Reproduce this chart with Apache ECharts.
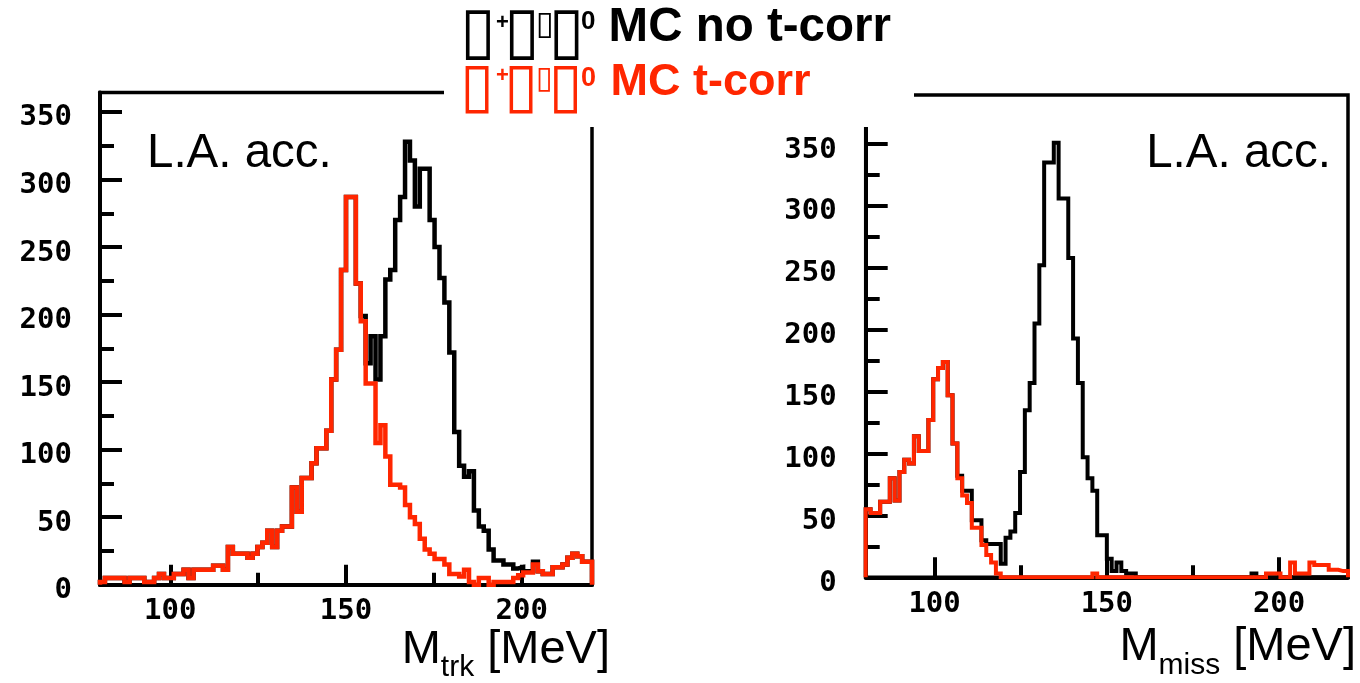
<!DOCTYPE html>
<html><head><meta charset="utf-8">
<script src="https://cdn.jsdelivr.net/npm/echarts@6/dist/echarts.min.js"></script>
<style>html,body{margin:0;padding:0;background:#fff}#c{width:1360px;height:683px}</style>
</head><body><div id="c"></div>
<script>
// ---- data (100 bins of 1.4 MeV from 80 to 220 MeV) ----
const binStart = 80;
const binWidth = 1.4;
const xTicksMajor = [100, 150, 200];
const xTicksMinor = [125, 175];
const yTicksMajor = [0, 50, 100, 150, 200, 250, 300, 350];
const yTicksMinor = [25, 75, 125, 175, 225, 275, 325, 375];

const titleLine1 = ['▯', '+', '▯', '▯', '▯', '0', ' MC no t-corr'];
const titleLine2 = ['▯', '+', '▯', '▯', '▯', '0', ' MC t-corr'];
const panelLabel = 'L.A. acc.';
const leftAxisName = ['M', 'trk', ' [MeV]'];
const rightAxisName = ['M', 'miss', ' [MeV]'];

// Left panel: M_trk
const leftRed = [
  2, 5, 5, 5, 5, 2, 5, 5, 5, 2,
  2, 5, 8, 5, 5, 8, 8, 11, 5, 11,
  11, 11, 11, 14, 14, 11, 28, 23, 23, 23,
  20, 23, 28, 31, 40, 28, 40, 43, 43, 72,
  54, 79, 79, 90, 101, 101, 114, 152, 174, 233,
  287, 287, 223, 195, 149, 149, 105, 118, 95, 74,
  74, 72, 59, 50, 45, 34, 26, 23, 19, 19,
  15, 8, 8, 6, 11, 2, 0, 5, 5, 0,
  2, 2, 2, 2, 5, 7, 9, 9, 15, 10,
  8, 8, 13, 13, 15, 20, 23, 21, 17, 17
];
const leftBlack = [
  2, 5, 5, 5, 5, 2, 5, 5, 5, 2,
  2, 5, 8, 5, 5, 8, 8, 11, 5, 11,
  11, 11, 11, 14, 14, 11, 28, 23, 23, 23,
  20, 23, 28, 31, 40, 28, 40, 43, 43, 72,
  54, 79, 79, 90, 101, 101, 114, 152, 174, 233,
  287, 287, 223, 199, 164, 184, 152, 184, 226, 233,
  270, 287, 328, 314, 280, 308, 308, 270, 250, 227,
  209, 172, 113, 88, 80, 84, 55, 43, 40, 26,
  18, 18, 15, 15, 12, 13, 10, 10, 17, 10,
  8, 8, 13, 13, 15, 20, 23, 21, 17, 17
];

// Right panel: M_miss
const rightRed = [
  55, 52, 52, 61, 61, 80, 62, 85, 95, 92,
  114, 102, 102, 127, 160, 169, 174, 147, 108, 80,
  66, 60, 40, 40, 26, 18, 12, 3, 0, 0,
  0, 0, 0, 0, 0, 0, 0, 0, 0, 0,
  0, 0, 0, 0, 0, 0, 0, 3, 0, 0,
  0, 0, 0, 0, 0, 0, 0, 0, 0, 0,
  0, 0, 0, 0, 0, 0, 0, 0, 0, 0,
  0, 0, 0, 0, 0, 0, 0, 0, 0, 0,
  0, 0, 0, 3, 3, 3, 0, 0, 12, 3,
  3, 3, 12, 10, 10, 10, 6, 6, 5, 5
];
const rightBlack = [
  55, 52, 52, 61, 61, 80, 62, 85, 95, 92,
  114, 102, 102, 127, 160, 169, 174, 147, 108, 82,
  70, 70, 46, 46, 30, 27, 27, 27, 11, 32,
  37, 52, 85, 135, 157, 205, 252, 335, 335, 351,
  306, 306, 258, 193, 157, 97, 80, 70, 34, 34,
  15, 5, 12, 5, 3, 3, 0, 0, 0, 0,
  0, 0, 0, 0, 0, 0, 0, 0, 0, 0,
  0, 0, 0, 0, 0, 0, 0, 0, 0, 0,
  3, 0, 0, 0, 0, 0, 0, 0, 0, 0,
  0, 0, 0, 0, 0, 0, 0, 0, 0, 0
];

// ---- build step outlines from bin contents ----
function histData(vals) {
  const d = [[binStart, 0]];
  vals.forEach((v, i) => d.push([+(binStart + i * binWidth).toFixed(3), v]));
  const end = +(binStart + vals.length * binWidth).toFixed(3);
  d.push([end, vals[vals.length - 1]]);
  d.push([end, 0]);
  return d;
}

const RED = '#ff2600';
const tickFont = { fontFamily: 'DejaVu Sans Mono', fontWeight: 'bold', fontSize: 29, color: '#000' };

function xAxes(grid, margin) {
  return [
    { gridIndex: grid, type: 'value', min: 80, max: 220, position: 'bottom',
      axisLine: { show: true, onZero: false, lineStyle: { color: '#000', width: 4 } },
      axisTick: { show: true, inside: true, length: 20, customValues: xTicksMajor, lineStyle: { color: '#000', width: 4 } },
      axisLabel: Object.assign({ customValues: xTicksMajor, margin: margin, lineHeight: 29 }, tickFont),
      splitLine: { show: false } },
    { gridIndex: grid, type: 'value', min: 80, max: 220, position: 'bottom',
      axisLine: { show: false },
      axisTick: { show: true, inside: true, length: 12, customValues: xTicksMinor, lineStyle: { color: '#000', width: 4 } },
      axisLabel: { show: false }, splitLine: { show: false } }
  ];
}
function yAxes(grid, max, margin) {
  return [
    { gridIndex: grid, type: 'value', min: 0, max: max, position: 'left',
      axisLine: { show: true, onZero: false, lineStyle: { color: '#000', width: 4 } },
      axisTick: { show: true, inside: true, length: 22, customValues: yTicksMajor, lineStyle: { color: '#000', width: 4 } },
      axisLabel: Object.assign({ customValues: yTicksMajor, margin: margin, verticalAlign: 'top', lineHeight: 12 }, tickFont),
      splitLine: { show: false } },
    { gridIndex: grid, type: 'value', min: 0, max: max, position: 'left',
      axisLine: { show: false },
      axisTick: { show: true, inside: true, length: 14, customValues: yTicksMinor, lineStyle: { color: '#000', width: 4 } },
      axisLabel: { show: false }, splitLine: { show: false } }
  ];
}

function lineSeries(vals, color, xi, yi, w) {
  return { type: 'line', step: 'end', xAxisIndex: xi, yAxisIndex: yi, data: histData(vals),
    symbol: 'none', silent: true, clip: true,
    lineStyle: { color: color, width: w, join: 'miter', cap: 'butt' } };
}

const bigFont = 'Liberation Sans';
function richTitle(color, f, p, w) {
  const box = (fs, pt, wd) => ({ fontFamily: 'DejaVu Sans', fontWeight: 'normal', fontSize: fs, height: fs, padding: [pt, 0, 0, 0], width: wd, verticalAlign: 'top', color: color });
  const sup = (fs, pt, wd) => ({ fontFamily: bigFont, fontWeight: 'bold', fontSize: fs, height: fs, padding: [pt, 0, 0, 0], width: wd, verticalAlign: 'top', color: color });
  return {
    b1: box(f.box, p.box, w.b1), b2: box(f.box, p.box, w.b2), b3: box(f.box, p.box, w.b3),
    plus: sup(22, p.plus, w.plus), zero: sup(f.zero, p.zero, w.zero),
    sb: box(f.sb, p.sb, w.sb),
    t: { fontFamily: bigFont, fontWeight: 'bold', fontSize: f.t, height: f.t, padding: [p.t, 0, 0, 0], verticalAlign: 'top', color: color }
  };
}
function titleText(parts) {
  return '{b1|' + parts[0] + '}{plus|' + parts[1] + '}{b2|' + parts[2] + '}{sb|' + parts[3] + '}{b3|' + parts[4] + '}{zero|' + parts[5] + '}{t|' + parts[6] + '}';
}
const widths1 = { b1: 36, plus: 8, b2: 31.7, sb: 12.8, b3: 32.5, zero: 14.4 };
const widths2 = { b1: 36, plus: 8, b2: 31.7, sb: 12.8, b3: 32.5, zero: 17 };
const rich1 = richTitle('#000', { box: 65, sb: 33, zero: 26, t: 47.5 }, { box: 0, plus: 9, zero: 6, sb: 6.4, t: 0.8 }, widths1);
const rich2 = richTitle(RED, { box: 62, sb: 31, zero: 27, t: 45 }, { box: 0, plus: 5.7, zero: 6, sb: 5.9, t: 0.9 }, widths2);

const richAxis = {
  m: { fontFamily: bigFont, fontWeight: 'normal', fontSize: 47, height: 47, padding: [0, 0, 0, 0], verticalAlign: 'top', color: '#000' },
  sub: { fontFamily: bigFont, fontWeight: 'normal', fontSize: 30, height: 30, padding: [26.4, 0, 0, 0], verticalAlign: 'top', color: '#000' }
};
function axisText(parts) { return '{m|' + parts[0] + '}{sub|' + parts[1] + '}{m|' + parts[2] + '}'; }
const labelStyle = { fontFamily: bigFont, fontWeight: 'normal', fontSize: 47.5, lineHeight: 46, color: '#000' };

const option = {
  animation: false,
  backgroundColor: '#fff',
  grid: [
    { left: 100, top: 92.5, width: 492, height: 492.2, show: true, borderColor: '#000', borderWidth: 3.5, backgroundColor: 'transparent' },
    { left: 865.7, top: 95, width: 482.3, height: 482.3, show: true, borderColor: '#000', borderWidth: 3.5, backgroundColor: 'transparent' }
  ],
  xAxis: [].concat(xAxes(0, 12), xAxes(1, 13)),
  yAxis: [].concat(yAxes(0, 364.4, 28), yAxes(1, 389.6, 29)),
  series: [
    lineSeries(leftBlack, '#000', 0, 0, 4.5),
    lineSeries(leftRed, RED, 0, 0, 4.5),
    lineSeries(rightBlack, '#000', 2, 2, 4),
    lineSeries(rightRed, RED, 2, 2, 4)
  ],
  graphic: [
    { type: 'rect', z: 50, shape: { x: 444, y: 0, width: 470, height: 127 }, style: { fill: '#fff' } }
  ],
  title: [
    { text: titleText(titleLine1), left: 460, top: 3, padding: 0, z: 60, textStyle: { rich: rich1 } },
    { text: titleText(titleLine2), left: 460, top: 59, padding: 0, z: 60, textStyle: { rich: rich2 } },
    { text: panelLabel, left: 147, top: 131, padding: 0, z: 60, textStyle: labelStyle },
    { text: panelLabel, right: 29, top: 131, padding: 0, z: 60, textStyle: labelStyle },
    { text: axisText(leftAxisName), right: 750, top: 626.2, padding: 0, z: 60, textStyle: { fontWeight: 'normal', rich: richAxis } },
    { text: axisText(rightAxisName), right: 4, top: 624, padding: 0, z: 60, textStyle: { fontWeight: 'normal', rich: richAxis } }
  ]
};
const chart = echarts.init(document.getElementById('c'), null, { renderer: 'canvas' });
chart.setOption(option);
</script>
</body></html>
